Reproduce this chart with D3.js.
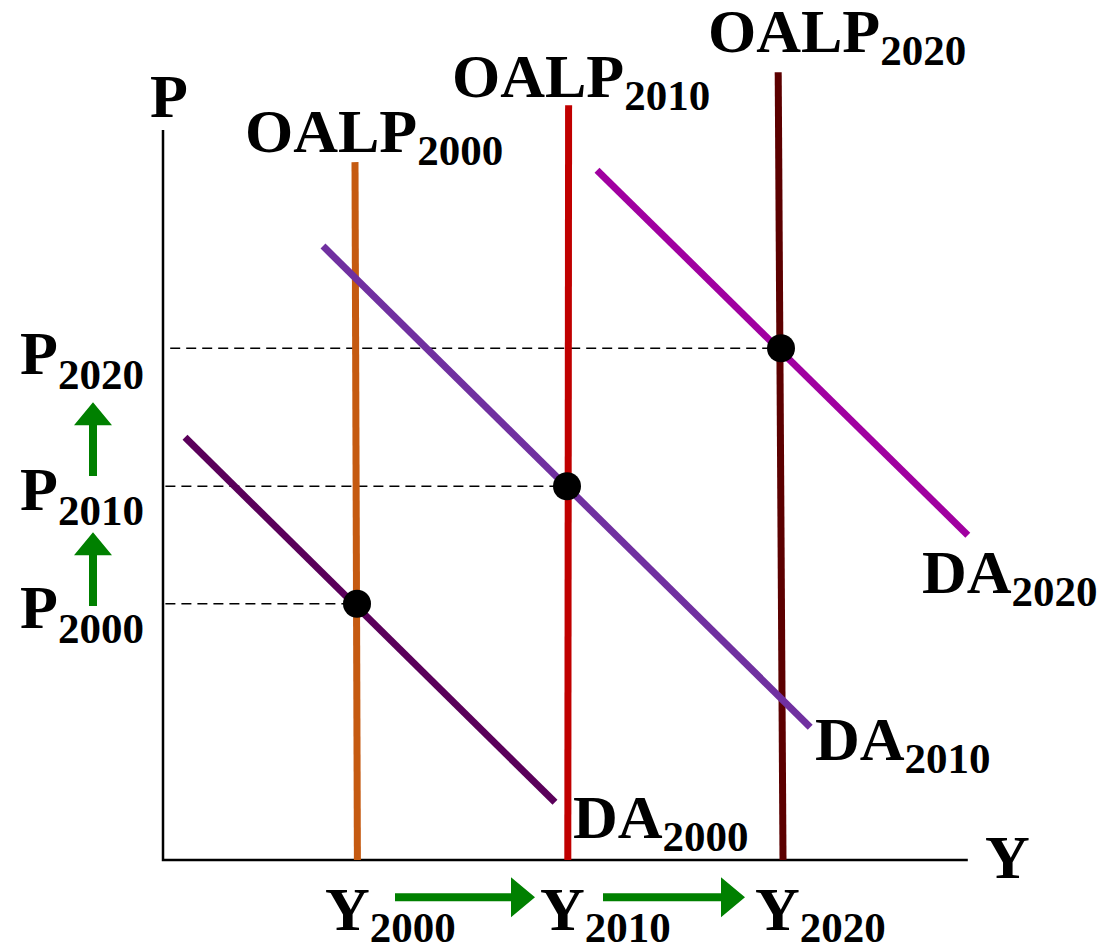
<!DOCTYPE html>
<html>
<head>
<meta charset="utf-8">
<script src="https://cdn.jsdelivr.net/npm/d3@7"></script>
<style>
  body { margin: 0; background: #fff; }
  text { font-family: "Liberation Serif", "Times New Roman", serif; font-weight: bold; fill: #000; }
</style>
</head>
<body>
<div id="chart"></div>
<script>
const width = 1115;
const height = 950;

// data space: output Y and price P, both 0..100
const years = ['2000', '2010', '2020'];

// long-run supply (vertical, slightly leaning): [bottom, top]
const oalp = [
  { year: '2000', color: '#c55a11', pts: [{ y: 24.3, p: 0 }, { y: 24.0, p: 95.6 }] },
  { year: '2010', color: '#c00000', pts: [{ y: 50.6, p: 0 }, { y: 50.7, p: 103.4 }] },
  { year: '2020', color: '#5c0000', pts: [{ y: 77.5, p: 0 }, { y: 76.9, p: 107.9 }] }
];

// aggregate demand curves
const da = [
  { year: '2000', color: '#5a005a', pts: [{ y: 2.75, p: 57.9 }, { y: 49.0, p: 7.9 }] },
  { year: '2010', color: '#7030a0', pts: [{ y: 20.0, p: 84.1 }, { y: 80.9, p: 18.2 }] },
  { year: '2020', color: '#a000a0', pts: [{ y: 54.25, p: 94.5 }, { y: 100.6, p: 44.5 }] }
];

// equilibrium points and the start of their dashed guides
const equilibria = [
  { year: '2000', y: 24.25, p: 35.1, from: 0.3 },
  { year: '2010', y: 50.5, p: 51.2, from: 0.3 },
  { year: '2020', y: 77.25, p: 70.1, from: 0.9 }
];

// green shift arrows
const arrowsUp = [
  { y: -8.75, p0: 34.8, p1: 44.9 },
  { y: -8.75, p0: 52.6, p1: 62.7 }
];
const arrowsRight = [
  { p: -5.1, y0: 29.0, y1: 46.5 },
  { p: -5.1, y0: 55.0, y1: 72.75 }
];

const x = d3.scaleLinear().domain([0, 100]).range([163, 963]);
const y = d3.scaleLinear().domain([0, 100]).range([860, 130]);

const svg = d3.select('#chart').append('svg')
  .attr('width', width)
  .attr('height', height);

const line = d3.line().x(d => x(d.y)).y(d => y(d.p));

// axes
svg.append('path')
  .attr('d', line([{ y: 0, p: 100 }, { y: 0, p: 0 }, { y: 100.6, p: 0 }]))
  .attr('fill', 'none')
  .attr('stroke', '#000')
  .attr('stroke-width', 2.5);

// dashed guides
svg.selectAll('.guide')
  .data(equilibria)
  .join('path')
    .attr('class', 'guide')
    .attr('d', d => line([{ y: d.from, p: d.p }, { y: d.y, p: d.p }]))
    .attr('stroke', '#000')
    .attr('stroke-width', 1.5)
    .attr('stroke-dasharray', '10,6');

const drawCurves = (data, cls) =>
  svg.selectAll('.' + cls)
    .data(data)
    .join('path')
      .attr('class', cls)
      .attr('d', d => line(d.pts))
      .attr('stroke', d => d.color)
      .attr('stroke-width', 7)
      .attr('fill', 'none');

drawCurves(oalp, 'oalp');
drawCurves(da, 'da');

svg.selectAll('.eq')
  .data(equilibria)
  .join('circle')
    .attr('class', 'eq')
    .attr('cx', d => x(d.y))
    .attr('cy', d => y(d.p))
    .attr('r', 14)
    .attr('fill', '#000');

// arrows
const green = '#008000';
const upArrow = d => {
  const cx = x(d.y), b = y(d.p0), t = y(d.p1);
  return `M${cx - 4},${b} L${cx - 4},${t + 23} L${cx - 19},${t + 23} L${cx},${t} L${cx + 19},${t + 23} L${cx + 4},${t + 23} L${cx + 4},${b} Z`;
};
const rightArrow = d => {
  const cy = y(d.p), l = x(d.y0), r = x(d.y1);
  return `M${l},${cy - 4} L${r - 24},${cy - 4} L${r - 24},${cy - 20} L${r},${cy} L${r - 24},${cy + 20} L${r - 24},${cy + 4} L${l},${cy + 4} Z`;
};
svg.selectAll('.up').data(arrowsUp).join('path').attr('class', 'up').attr('d', upArrow).attr('fill', green);
svg.selectAll('.right').data(arrowsRight).join('path').attr('class', 'right').attr('d', rightArrow).attr('fill', green);

// labels
const label = (main, sub, px, py, size = 62, subSize = 43, drop = 13) => {
  const t = svg.append('text').attr('x', px).attr('y', py).style('font-size', size + 'px');
  t.append('tspan').text(main);
  if (sub) t.append('tspan').attr('dy', drop).style('font-size', subSize + 'px').text(sub);
};

label('P', null, 150, 117);
label('Y', null, 985, 878);

label('OALP', years[0], 245, 152);
label('OALP', years[1], 452, 97);
label('OALP', years[2], 708, 52);

label('DA', years[0], 573, 838);
label('DA', years[1], 815, 760);
label('DA', years[2], 922, 593);

label('P', years[2], 20, 374, 62, 43, 15);
label('P', years[1], 20, 510, 62, 43, 15);
label('P', years[0], 20, 628, 62, 43, 15);

label('Y', years[0], 325, 930, 62, 43, 12);
label('Y', years[1], 540, 930, 62, 43, 12);
label('Y', years[2], 755, 930, 62, 43, 12);
</script>
</body>
</html>
